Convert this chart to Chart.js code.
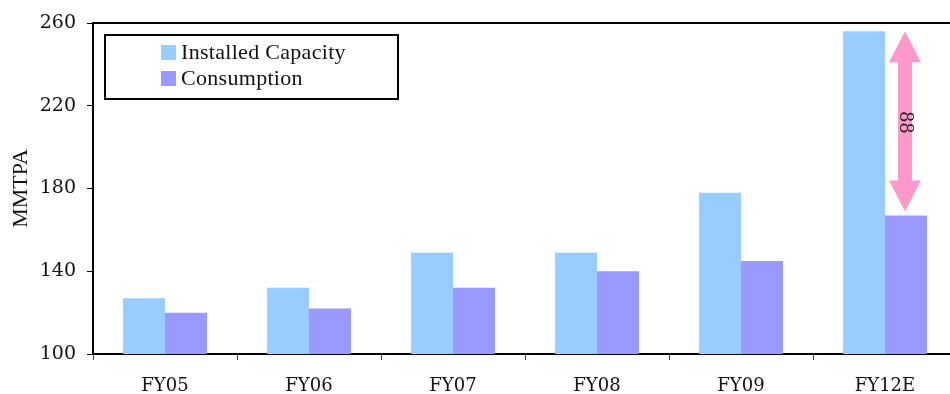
<!DOCTYPE html>
<html lang="en">
<head>
    <meta charset="UTF-8">
    <title>Installed Capacity vs Consumption</title>
    <script src="https://cdn.jsdelivr.net/npm/chart.js"></script>
    <style>
        html, body { margin: 0; padding: 0; background: #fff; overflow: hidden; }
        #myChart { display: block; }
    </style>
</head>
<body>
    <canvas id="myChart" width="960" height="394"></canvas>

    <script>
        // data (MMTPA)
        var years = ['FY05', 'FY06', 'FY07', 'FY08', 'FY09', 'FY12E'];
        var installedCapacity = [127, 132, 149, 149, 178, 256];
        var consumption = [120, 122, 132, 140, 145, 167];
        var gapLabel = '88';
        var yTicks = [100, 140, 180, 220, 260];

        var serif = "'DejaVu Serif', 'Liberation Serif', serif";
        var times = "'Liberation Serif', 'Times New Roman', serif";

        // legend box, top border and the pink gap arrow
        var extras = {
            id: 'extras',
            afterDraw: function (chart) {
                var ctx = chart.ctx;
                var area = chart.chartArea;
                var x = chart.scales.x, y = chart.scales.y;
                ctx.save();

                // top frame line
                ctx.strokeStyle = '#000';
                ctx.lineWidth = 2;
                ctx.beginPath();
                ctx.moveTo(area.left, area.top);
                ctx.lineTo(area.right, area.top);
                ctx.stroke();

                // legend
                ctx.fillStyle = '#fff';
                ctx.fillRect(105, 35, 293, 64);
                ctx.strokeStyle = '#000';
                ctx.lineWidth = 2;
                ctx.strokeRect(105, 35, 293, 64);
                ctx.font = '22px ' + times;
                ctx.letterSpacing = '0.3px';
                ctx.textBaseline = 'middle';
                chart.data.datasets.forEach(function (ds, i) {
                    var cy = 52 + i * 26;
                    ctx.fillStyle = ds.backgroundColor;
                    ctx.fillRect(161, cy - 7, 15, 15);
                    ctx.fillStyle = '#111';
                    ctx.fillText(ds.label, 181, cy + 1);
                });
                ctx.letterSpacing = '0px';

                // arrow between FY12E capacity and consumption
                var last = years.length - 1;
                var cx = x.getPixelForValue(last) + 20;
                var top = y.getPixelForValue(installedCapacity[last]);
                var bottom = y.getPixelForValue(consumption[last]) - 4;
                var head = 31, hw = 16, sw = 7;
                ctx.fillStyle = '#FF99CC';
                ctx.beginPath();
                ctx.moveTo(cx, top);
                ctx.lineTo(cx + hw, top + head);
                ctx.lineTo(cx + sw, top + head);
                ctx.lineTo(cx + sw, bottom - head);
                ctx.lineTo(cx + hw, bottom - head);
                ctx.lineTo(cx, bottom);
                ctx.lineTo(cx - hw, bottom - head);
                ctx.lineTo(cx - sw, bottom - head);
                ctx.lineTo(cx - sw, top + head);
                ctx.lineTo(cx - hw, top + head);
                ctx.closePath();
                ctx.fill();

                ctx.translate(cx, (top + bottom) / 2 + 1);
                ctx.rotate(Math.PI / 2);
                ctx.font = '18px ' + serif;
                ctx.fillStyle = '#222';
                ctx.textAlign = 'center';
                ctx.textBaseline = 'middle';
                ctx.fillText(gapLabel, 0, 0);
                ctx.restore();
            }
        };

        var ctx = document.getElementById('myChart').getContext('2d');
        var myChart = new Chart(ctx, {
            type: 'bar',
            data: {
                labels: years,
                datasets: [
                    {
                        label: 'Installed Capacity',
                        data: installedCapacity,
                        backgroundColor: '#99CCFF'
                    },
                    {
                        label: 'Consumption',
                        data: consumption,
                        backgroundColor: '#9999FF'
                    }
                ]
            },
            options: {
                responsive: false,
                animation: false,
                events: [],
                categoryPercentage: 0.583,
                barPercentage: 1.0,
                layout: { padding: { left: 0, top: 23, right: 3, bottom: 0 } },
                plugins: {
                    legend: { display: false },
                    tooltip: { enabled: false }
                },
                scales: {
                    x: {
                        grid: {
                            offset: true,
                            drawOnChartArea: false,
                            tickLength: 6,
                            color: '#444',
                            lineWidth: 1
                        },
                        border: { color: '#000', width: 2 },
                        ticks: {
                            color: '#111',
                            padding: 16,
                            font: { family: serif, size: 18 }
                        },
                        afterFit: function (scale) { scale.height = 40; }
                    },
                    y: {
                        min: yTicks[0],
                        max: yTicks[yTicks.length - 1],
                        afterBuildTicks: function (scale) {
                            scale.ticks = yTicks.map(function (v) { return { value: v }; });
                        },
                        grid: {
                            drawOnChartArea: false,
                            tickLength: 6,
                            color: '#000',
                            lineWidth: 1
                        },
                        border: { color: '#000', width: 2 },
                        ticks: {
                            color: '#111',
                            padding: 11,
                            font: { family: serif, size: 19 }
                        },
                        title: {
                            display: true,
                            text: 'MMTPA',
                            color: '#111',
                            padding: { top: 8, bottom: 0 },
                            font: { family: times, size: 22 }
                        },
                        afterFit: function (scale) { scale.width = 93; }
                    }
                }
            },
            plugins: [extras]
        });
    </script>
</body>
</html>
